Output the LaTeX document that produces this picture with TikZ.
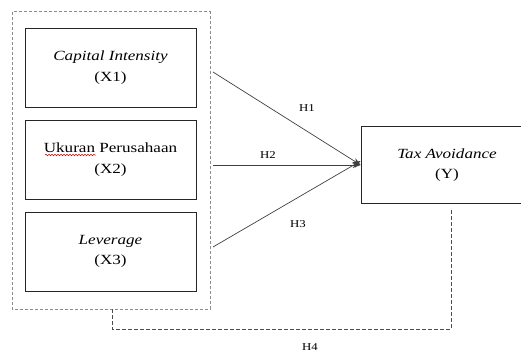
\documentclass[tikz,border=0pt]{standalone}
\usepackage{fontspec}
\setmainfont[FakeStretch=1.22]{Liberation Serif}
\usetikzlibrary{arrows.meta,decorations.pathmorphing}
\begin{document}
\begin{tikzpicture}[x=1pt,y=-1pt,
  boxfont/.style={font=\fontsize{14}{20.5}\selectfont},
  varbox/.style={draw=black!85,line width=0.8pt,minimum width=171pt,minimum height=79pt,align=center,boxfont,inner sep=0pt},
  hlabel/.style={font=\fontsize{10.5}{12}\selectfont,inner sep=1pt},
  path/.style={draw=black!75,line width=0.7pt,-{Stealth[length=8pt,width=6pt]}}]
\useasboundingbox (0,0) rectangle (521,353);
% outer dashed group
\draw[black!45,line width=1pt,dash pattern=on 3pt off 2pt] (12,12) rectangle (210,309);
\node[varbox] (x1) at (110.5,67.5) {\textit{Capital Intensity}\\(X1)};
\node[varbox] (x2) at (110.5,159.5) {Ukuran Perusahaan\\(X2)};
\node[varbox] (x3) at (110.5,251.5) {\textit{Leverage}\\(X3)};
\node[draw=black!85,line width=0.8pt,minimum width=172pt,minimum height=77pt,align=center,boxfont,inner sep=0pt] (y) at (447,165) {\textit{Tax Avoidance}\\(Y)};
% spell-check underline
\draw[red!85!black,line width=0.5pt,decorate,decoration={snake,amplitude=0.8pt,segment length=3pt}] (45,155) -- (96,155);
\coordinate (g1) at (213,72);
\coordinate (g2) at (213,165);
\coordinate (g3) at (213,247);
\coordinate (tip) at (y.west);
\path[path] (g1) -- (tip);
\path[path] (g2) -- (tip);
\path[path] (g3) -- ([yshift=4pt]tip);
\node[hlabel] (h1) at (307,108) {H1};
\node[hlabel] (h2) at (268,155) {H2};
\node[hlabel] (h3) at (298,224) {H3};
% H4
\coordinate (d1) at (112,309);
\coordinate (d2) at (112,329);
\coordinate (d3) at (451,329);
\coordinate (d4) at (451,208);
\draw[black!70,line width=0.8pt,dash pattern=on 4pt off 2pt] (d1) -- (d2) -- (d3) -- (d4);
\node[hlabel] (h4) at (310,347) {H4};
\end{tikzpicture}
\end{document}
